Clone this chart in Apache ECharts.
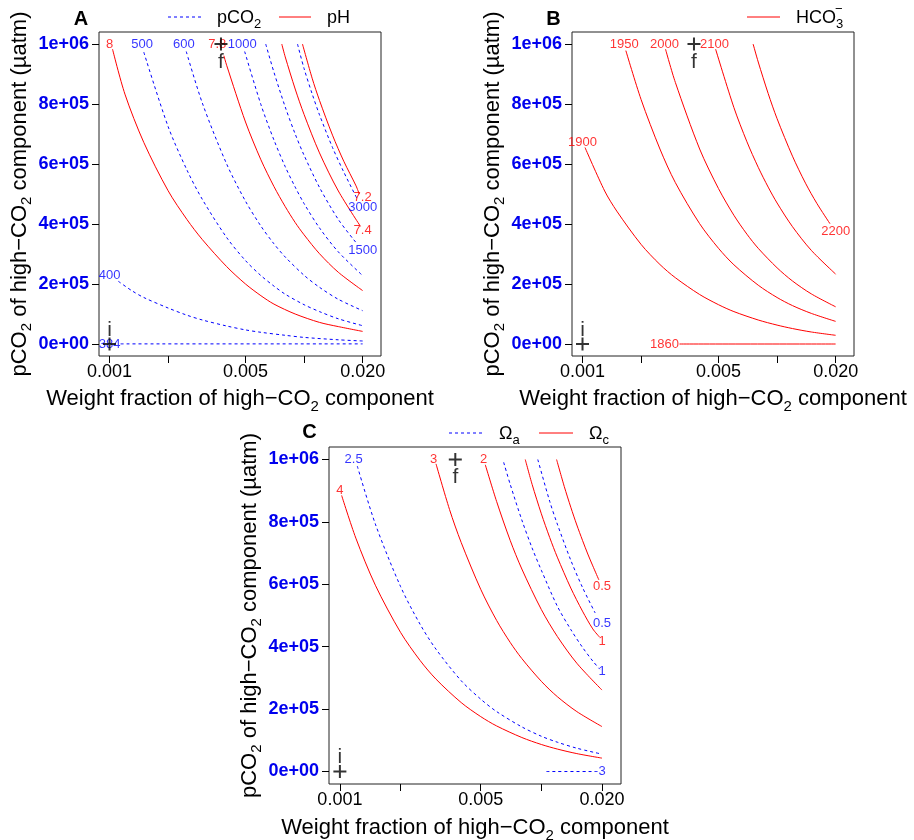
<!DOCTYPE html>
<html>
<head>
<meta charset="utf-8">
<script src="https://cdn.jsdelivr.net/npm/echarts@6/dist/echarts.min.js"></script>
<style>
  html, body { margin: 0; padding: 0; background: #fff; }
  #chart { width: 914px; height: 840px; }
</style>
</head>
<body>
<div id="chart"></div>
<script>
// ---------- axes ----------
const xRange = [0.000883, 0.02485];
const yRange = [-40000, 1040000];
const xTickValues = [0.001, 0.002, 0.005, 0.01, 0.02];
const xLabelValues = [0.001, 0.005, 0.02];
const xLabelText = ['0.001', '0.005', '0.020'];
const yTickValues = [0, 200000, 400000, 600000, 800000, 1000000];
const yLabelText = ['0e+00', '2e+05', '4e+05', '6e+05', '8e+05', '1e+06'];

// ---------- panel A: pH (solid) and pCO2 (dashed) isolines, [weight fraction, pCO2] ----------
const pH8 = [[0.001036, 983000], [0.0012, 833000], [0.0015, 672000], [0.002, 511000], [0.0025, 415000], [0.003, 348000], [0.004, 258000], [0.005, 200000], [0.006, 161000], [0.007, 133000], [0.009, 100000], [0.012, 72000], [0.015, 58000], [0.02, 42000]];
const pH78 = [[0.00387, 961000], [0.004, 929000], [0.005, 740000], [0.006, 614000], [0.007, 525000], [0.008, 458000], [0.009, 405000], [0.01, 364000], [0.012, 301000], [0.015, 239000], [0.02, 178000]];
const pH74 = [[0.00768, 1000000], [0.008, 957000], [0.009, 850000], [0.01, 765000], [0.012, 637000], [0.015, 510000], [0.0195, 392000]];
const pH72 = [[0.00981, 1000000], [0.011, 886000], [0.012, 812000], [0.014, 696000], [0.016, 609000], [0.0185, 527000], [0.0192, 500000]];
const pco2_384 = [[0.00114, 400], [0.02, 400]];
const pco2_400 = [[0.00111, 209000], [0.0013, 178000], [0.0015, 155000], [0.002, 120000], [0.0025, 96000], [0.003, 80000], [0.004, 60000], [0.005, 47000], [0.006, 39000], [0.008, 29000], [0.01, 22000], [0.015, 14000], [0.02, 10000]];
const pco2_500 = [[0.0015, 973000], [0.002, 725000], [0.0025, 580000], [0.003, 482000], [0.004, 355000], [0.005, 278000], [0.006, 228000], [0.007, 193000], [0.008, 166000], [0.01, 131000], [0.012, 108000], [0.015, 84000], [0.02, 61000]];
const pco2_600 = [[0.00248, 975000], [0.003, 803000], [0.004, 600000], [0.005, 476000], [0.006, 393000], [0.007, 334000], [0.008, 290000], [0.01, 229000], [0.012, 189000], [0.015, 149000], [0.02, 111000]];
const pco2_1000 = [[0.00495, 975000], [0.006, 798000], [0.007, 680000], [0.008, 591000], [0.009, 523000], [0.01, 468000], [0.012, 387000], [0.015, 307000], [0.02, 228000]];
const pco2_1500 = [[0.00635, 1000000], [0.007, 906000], [0.008, 790000], [0.009, 700000], [0.01, 629000], [0.012, 522000], [0.015, 415000], [0.0185, 338000]];
const pco2_3000 = [[0.00925, 1000000], [0.01, 918000], [0.011, 834000], [0.012, 764000], [0.014, 655000], [0.016, 573000], [0.0188, 482000]];

const pHLabels = ['8', '7.8', '7.2', '7.4'];
const pHLabelW = [0.001, 0.00358, 0.02, 0.02];
const pHLabelP = [1000000, 1000000, 487000, 380000];
const pco2Labels = ['500', '600', '1000', '3000', '1500', '400', '384'];
const pco2LabelW = [0.00147, 0.00241, 0.00481, 0.02, 0.02, 0.001, 0.001];
const pco2LabelP = [1000000, 1000000, 1000000, 455000, 311000, 228000, 0];

// ---------- panel B: bicarbonate isolines ----------
const hco3_1860 = [[0.00315, 0], [0.02, 0]];
const hco3_1900 = [[0.00103, 655000], [0.0013, 510000], [0.0015, 443000], [0.002, 332000], [0.0025, 265000], [0.003, 221000], [0.004, 165000], [0.005, 131000], [0.006, 108000], [0.008, 80000], [0.01, 63000], [0.012, 51500], [0.015, 40000], [0.02, 29000]];
const hco3_1950 = [[0.00167, 978000], [0.002, 815000], [0.0025, 650000], [0.003, 538000], [0.004, 401000], [0.005, 319000], [0.006, 264000], [0.008, 196000], [0.01, 155000], [0.012, 128000], [0.015, 102000], [0.02, 75400]];
const hco3_2000 = [[0.00267, 983000], [0.003, 872000], [0.004, 650000], [0.005, 518000], [0.006, 429000], [0.007, 366000], [0.008, 319000], [0.01, 254000], [0.012, 210000], [0.015, 167000], [0.02, 124000]];
const hco3_2100 = [[0.00483, 983000], [0.006, 788000], [0.007, 674000], [0.008, 589000], [0.009, 523000], [0.01, 470000], [0.012, 391000], [0.015, 312000], [0.02, 233000]];
const hco3_2200 = [[0.00753, 1000000], [0.008, 940000], [0.009, 835000], [0.01, 751000], [0.012, 626000], [0.014, 536000], [0.016, 469000], [0.0187, 401000]];

const hco3Labels = ['1900', '1950', '2000', '2100', '2200', '1860'];
const hco3LabelW = [0.001, 0.00164, 0.00264, 0.00477, 0.02, 0.00264];
const hco3LabelP = [672000, 1000000, 1000000, 1000000, 375000, 0];

// ---------- panel C: calcite (solid) and aragonite (dashed) saturation isolines ----------
const omc_4 = [[0.00102, 885000], [0.0012, 748000], [0.0015, 597000], [0.002, 446000], [0.0025, 356000], [0.003, 296000], [0.004, 221000], [0.005, 176000], [0.006, 146000], [0.008, 109000], [0.01, 86600], [0.012, 72000], [0.015, 57400], [0.02, 42900]];
const omc_3 = [[0.003, 986000], [0.0035, 840000], [0.004, 734000], [0.005, 584000], [0.006, 484000], [0.007, 414000], [0.008, 362000], [0.01, 289000], [0.012, 240000], [0.015, 192000], [0.02, 144000]];
const omc_2 = [[0.00527, 983000], [0.006, 865000], [0.007, 741000], [0.008, 649000], [0.01, 519000], [0.012, 433000], [0.015, 347000], [0.02, 261000]];
const omc_1 = [[0.00832, 1000000], [0.009, 920000], [0.01, 826000], [0.011, 750000], [0.012, 687000], [0.014, 588000], [0.016, 514000], [0.018, 457000], [0.0195, 430000]];
const omc_05 = [[0.0119, 1000000], [0.013, 913000], [0.014, 847000], [0.015, 790000], [0.016, 741000], [0.017, 697000], [0.018, 659000], [0.0193, 614000]];
const oma_3 = [[0.0106, 0], [0.019, 0]];
const oma_25 = [[0.00122, 979000], [0.0015, 793000], [0.002, 593000], [0.0025, 472000], [0.003, 392000], [0.004, 291000], [0.005, 232000], [0.006, 192000], [0.008, 143000], [0.01, 113000], [0.012, 94000], [0.015, 74700], [0.02, 55600]];
const oma_1 = [[0.0065, 991000], [0.007, 921000], [0.008, 806000], [0.009, 716000], [0.01, 645000], [0.012, 530000], [0.014, 455000], [0.016, 398000], [0.018, 354000], [0.0195, 328000]];
const oma_05 = [[0.0096, 1000000], [0.011, 866000], [0.012, 793000], [0.014, 677000], [0.016, 590000], [0.0185, 508000]];

const omcLabels = ['4', '3', '2', '1', '0.5'];
const omcLabelW = [0.001, 0.00292, 0.00517, 0.02, 0.02];
const omcLabelP = [901000, 1000000, 1000000, 416000, 592000];
const omaLabels = ['2.5', '1', '0.5', '3'];
const omaLabelW = [0.00117, 0.02, 0.02, 0.02];
const omaLabelP = [1000000, 320000, 476000, 0];

// initial and final mixture points
const pointNames = ['i', 'f'];
const pointW = [0.001, 0.00374];
const pointP = [0, 1000000];

// ---------- styling ----------
const FONT = '"Liberation Sans", Arial, Helvetica, sans-serif';
const RED = '#ff0000';
const BLUE = '#0000ff';
const SUB = { fontSize: 15, lineHeight: 30, verticalAlign: 'bottom', fontFamily: FONT, color: '#000' };

const grids = [
  { left: 99, top: 32, width: 282, height: 324 },
  { left: 572, top: 32, width: 282, height: 324 },
  { left: 329, top: 447, width: 292, height: 337 }
];
const yNameGaps = [57, 57, 64];
const xNameGaps = [28, 28, 29];

function nearestLabel(v, values, texts) {
  let best = 0, bestD = Infinity;
  values.forEach((t, k) => {
    const d = Math.abs(Math.log(v / t));
    if (d < bestD) { bestD = d; best = k; }
  });
  return texts[best];
}

function xAxis(g) {
  return {
    gridIndex: g, type: 'log', logBase: 10, min: xRange[0], max: xRange[1], position: 'bottom',
    axisLine: { show: false, onZero: false }, splitLine: { show: false },
    axisTick: { show: true, customValues: xTickValues, length: 7, lineStyle: { color: '#000', width: 1 } },
    axisLabel: {
      customValues: xLabelValues, margin: 7, fontSize: 18, color: '#000', fontFamily: FONT,
      formatter: v => nearestLabel(v, xLabelValues, xLabelText)
    },
    name: 'Weight fraction of high−CO{sub|2} component',
    nameLocation: 'middle', nameGap: xNameGaps[g],
    nameTextStyle: { fontSize: 22, lineHeight: 22, color: '#000', fontFamily: FONT, rich: { sub: SUB } }
  };
}

function yAxis(g) {
  return {
    gridIndex: g, type: 'value', min: yRange[0], max: yRange[1], position: 'left',
    axisLine: { show: false, onZero: false }, splitLine: { show: false },
    axisTick: { show: true, customValues: yTickValues, length: 7, lineStyle: { color: '#000', width: 1 } },
    axisLabel: {
      customValues: yTickValues, margin: 10, fontSize: 18, fontWeight: 'bold', color: '#0000ee', fontFamily: FONT,
      formatter: v => { let k = 0; yTickValues.forEach((t, j) => { if (Math.abs(t - v) < Math.abs(yTickValues[k] - v)) k = j; }); return yLabelText[k]; }
    },
    name: 'pCO{sub|2} of high−CO{sub|2} component (µatm)',
    nameLocation: 'middle', nameRotate: 90, nameGap: yNameGaps[g],
    nameTextStyle: { fontSize: 22, lineHeight: 22, color: '#000', fontFamily: FONT, rich: { sub: SUB } }
  };
}

function isoline(g, pts, dashed) {
  return {
    type: 'line', xAxisIndex: g, yAxisIndex: g, data: pts,
    symbol: 'none', smooth: 0.3, silent: true, animation: false, z: 2,
    lineStyle: dashed ? { color: BLUE, width: 1, type: [3, 3] } : { color: RED, width: 1 }
  };
}

function isolineLabels(g, texts, ws, ps, color) {
  return {
    type: 'scatter', xAxisIndex: g, yAxisIndex: g, silent: true, animation: false, z: 3, clip: false,
    symbolSize: 1, itemStyle: { color: 'rgba(0,0,0,0)' },
    data: texts.map((t, k) => ({ name: t, value: [ws[k], ps[k]] })),
    label: { show: true, position: 'inside', formatter: '{b}', color: color, fontSize: 13, fontFamily: FONT }
  };
}

function mixturePoints(g) {
  return {
    type: 'scatter', xAxisIndex: g, yAxisIndex: g, silent: true, animation: false, z: 4, clip: false,
    symbol: 'path://M0 5H10M5 0V10', symbolSize: 13,
    itemStyle: { color: 'none', borderColor: '#000', borderWidth: 2 },
    data: pointNames.map((n, k) => ({
      name: n, value: [pointW[k], pointP[k]],
      label: { offset: [0, n === 'f' ? 18 : -14] }
    })),
    label: { show: true, position: 'inside', formatter: '{b}', color: '#000', fontSize: 21, fontFamily: FONT }
  };
}

const series = [
  isoline(0, pco2_384, true), isoline(0, pco2_400, true), isoline(0, pco2_500, true),
  isoline(0, pco2_600, true), isoline(0, pco2_1000, true), isoline(0, pco2_1500, true),
  isoline(0, pco2_3000, true),
  isoline(0, pH8, false), isoline(0, pH78, false), isoline(0, pH74, false), isoline(0, pH72, false),
  isolineLabels(0, pco2Labels, pco2LabelW, pco2LabelP, BLUE),
  isolineLabels(0, pHLabels, pHLabelW, pHLabelP, RED),
  mixturePoints(0),

  isoline(1, hco3_1860, false), isoline(1, hco3_1900, false), isoline(1, hco3_1950, false),
  isoline(1, hco3_2000, false), isoline(1, hco3_2100, false), isoline(1, hco3_2200, false),
  isolineLabels(1, hco3Labels, hco3LabelW, hco3LabelP, RED),
  mixturePoints(1),

  isoline(2, oma_3, true), isoline(2, oma_25, true), isoline(2, oma_1, true), isoline(2, oma_05, true),
  isoline(2, omc_4, false), isoline(2, omc_3, false), isoline(2, omc_2, false),
  isoline(2, omc_1, false), isoline(2, omc_05, false),
  isolineLabels(2, omaLabels, omaLabelW, omaLabelP, BLUE),
  isolineLabels(2, omcLabels, omcLabelW, omcLabelP, RED),
  mixturePoints(2)
];

// panel letters and legend keys
function letter(t, x, y) {
  return { type: 'text', x: x, y: y, silent: true,
    style: { text: t, fontSize: 20, fontWeight: 'bold', fontFamily: FONT, fill: '#000', align: 'center', verticalAlign: 'middle' } };
}
function keyLine(x1, x2, y, dashed) {
  return { type: 'line', silent: true, shape: { x1: x1, y1: y, x2: x2, y2: y },
    style: dashed ? { stroke: BLUE, lineWidth: 1, lineDash: [3, 3] } : { stroke: RED, lineWidth: 1 } };
}
const KEY_RICH = { sub: { fontSize: 13, lineHeight: 26, verticalAlign: 'bottom', fontFamily: FONT, fill: '#000' } };
function keyText(t, x, y, size) {
  return { type: 'text', x: x, y: y, silent: true,
    style: { text: t, fontSize: size || 18, lineHeight: 18, fontFamily: FONT, fill: '#000', align: 'left', verticalAlign: 'middle', rich: KEY_RICH } };
}

const graphic = [
  letter('A', 81, 19), letter('B', 553.5, 19), letter('C', 309.5, 432.5),
  keyLine(168, 202, 17, true), keyText('pCO{sub|2}', 217, 18), keyLine(279, 311, 17, false), keyText('pH', 327, 18),
  keyLine(747, 780, 17, false), keyText('HCO{sub|3}', 796, 18), keyText('−', 835, 9, 13),
  keyLine(449, 483, 433, true), keyText('Ω{sub|a}', 499, 434), keyLine(539, 573, 433, false), keyText('Ω{sub|c}', 589, 434)
];

const chart = echarts.init(document.getElementById('chart'), null, { renderer: 'canvas' });
chart.setOption({
  animation: false,
  backgroundColor: '#fff',
  textStyle: { fontFamily: FONT },
  grid: grids.map(g => Object.assign({
    show: true, borderColor: '#222', borderWidth: 1, backgroundColor: 'rgba(0,0,0,0)',
    containLabel: false, outerBoundsMode: 'none'
  }, g)),
  xAxis: [xAxis(0), xAxis(1), xAxis(2)],
  yAxis: [yAxis(0), yAxis(1), yAxis(2)],
  series: series,
  graphic: graphic
});
</script>
</body>
</html>
